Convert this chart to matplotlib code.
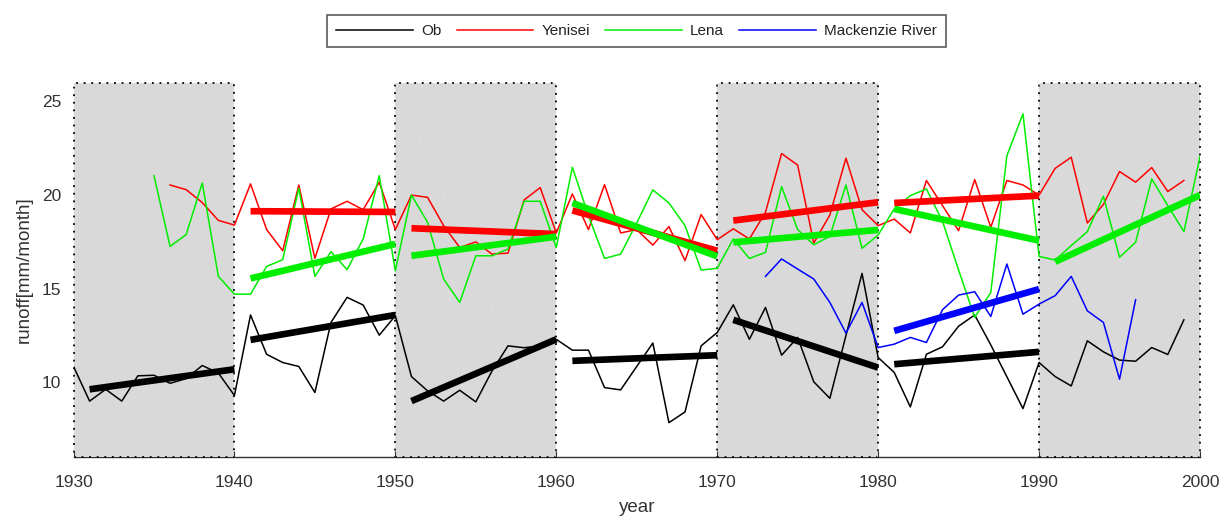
import numpy as np
import matplotlib
matplotlib.use("Agg")
import matplotlib.pyplot as plt
from matplotlib.patches import Rectangle

plt.rcParams['font.family'] = ['Liberation Sans', 'DejaVu Sans']

# ---------------- data ----------------
ob_years = list(range(1930, 2000))
ob_vals = [10.85, 9.0, 9.63, 9.0, 10.35, 10.38, 9.95, 10.2, 10.9, 10.5,
           9.3, 13.6, 11.5, 11.06, 10.85, 9.46, 13.2, 14.54, 14.13, 12.52,
           13.56, 10.31, 9.55, 9.0, 9.58, 8.96, 10.6, 11.95, 11.85, 11.95,
           12.3, 11.72, 11.72, 9.72, 9.6, 10.85, 12.1, 7.85, 8.42, 11.95,
           12.66, 14.14, 12.3, 14.0, 11.45, 12.4, 10.03, 9.15, 12.5, 15.82,
           11.33, 10.53, 8.69, 11.5, 11.9, 13.0, 13.6, 12.0, 10.3, 8.6,
           11.06, 10.31, 9.81, 12.22, 11.63, 11.19, 11.13, 11.86, 11.49, 13.34]

yen_years = list(range(1936, 2000))
yen_vals = [20.54, 20.29, 19.6, 18.65,
            18.4, 20.6, 18.16, 17.03, 20.54, 16.62, 19.26, 19.67, 19.22, 20.69,
            18.16, 20.0, 19.88, 18.37, 17.2, 17.5, 16.85, 16.9, 19.74, 20.4,
            17.98, 20.06, 18.16, 20.56, 17.98, 18.16, 17.33, 18.32, 16.5, 18.96,
            17.62, 18.2, 17.66, 19.08, 22.22, 21.6, 17.44, 18.94, 21.97, 19.22,
            18.37, 18.72, 17.98, 20.78, 19.44, 18.1, 20.83, 18.28, 20.78, 20.54,
            20.0, 21.43, 22.02, 18.51, 19.5, 21.26, 20.69, 21.47, 20.19, 20.78]

lena_years = list(range(1935, 2001))
lena_vals = [21.04, 17.26, 17.89, 20.65, 15.66,
             14.71, 14.71, 16.19, 16.55, 20.37, 15.66, 16.98, 16.02, 17.66, 21.04,
             15.96, 20.0, 18.55, 15.52, 14.27, 16.76, 16.76, 17.12, 19.67, 19.67,
             17.2, 21.49, 18.9, 16.62, 16.85, 18.51, 20.28, 19.58, 18.37, 16.0,
             16.09, 17.66, 16.62, 16.94, 20.45, 18.16, 17.35, 17.8, 20.54, 17.16,
             17.87, 19.26, 19.97, 20.33, 18.6, 16.0, 13.47, 14.8, 22.1, 24.34,
             16.73, 16.53, 17.3, 18.05, 19.94, 16.68, 17.48, 20.86, 19.44, 18.05,
             22.06]

mack_years = list(range(1973, 1997))
mack_vals = [15.66, 16.59, 16.05, 15.52, 14.27, 12.63, 14.27,
             11.86, 12.04, 12.4, 12.13, 13.88, 14.66, 14.84, 13.52, 16.32, 13.64,
             14.18, 14.63, 15.66, 13.82, 13.2, 10.17, 14.41]

# decadal trend segments: start year, start value, end value (segment spans 9 years)
ob_trend_start = [1931, 1941, 1951, 1961, 1971, 1981]
ob_trend_v0 = [9.63, 12.27, 9.0, 11.15, 13.34, 10.97]
ob_trend_v1 = [10.7, 13.6, 12.3, 11.45, 10.79, 11.63]

yen_trend_start = [1941, 1951, 1961, 1971, 1981]
yen_trend_v0 = [19.14, 18.23, 19.18, 18.64, 19.58]
yen_trend_v1 = [19.1, 17.92, 17.03, 19.62, 19.97]

lena_trend_start = [1941, 1951, 1961, 1971, 1981, 1991]
lena_trend_v0 = [15.55, 16.76, 19.58, 17.48, 19.26, 16.44]
lena_trend_v1 = [17.39, 17.78, 16.73, 18.14, 17.57, 20.0]

mack_trend_start = [1981]
mack_trend_v0 = [12.75]
mack_trend_v1 = [14.98]

shaded_decades = [1930, 1950, 1970, 1990]
xticks = [1930, 1940, 1950, 1960, 1970, 1980, 1990, 2000]
yticks = [10, 15, 20, 25]

# ---------------- figure ----------------
fig = plt.figure(figsize=(12.19, 5.18), dpi=100)
ax = fig.add_axes([0.0603, 0.1172, 0.9241, 0.7231])
ax.set_xlim(1930, 2000)
ax.set_ylim(6, 26)

for d in shaded_decades:
    ax.add_patch(Rectangle((d, 6), 10, 20, facecolor='#d9d9d9', edgecolor='black',
                           linestyle=(0, (1, 3.2)), linewidth=1.3, zorder=0.5,
                           clip_on=False))
    ax.plot([d, d + 10], [26, 6], color='#dfdfdf', lw=0.6, zorder=0.6)

ax.plot(ob_years, ob_vals, color='black', lw=1.1, label='Ob')
ax.plot(yen_years, yen_vals, color='#ff0000', lw=1.1, label='Yenisei')
ax.plot(lena_years, lena_vals, color='#00ee00', lw=1.1, label='Lena')
ax.plot(mack_years, mack_vals, color='#0000ff', lw=1.1, label='Mackenzie River')

def trends(starts, v0, v1, color):
    for s, a, b in zip(starts, v0, v1):
        ax.plot([s, s + 9], [a, b], color=color, lw=4.8, solid_capstyle='butt', zorder=3)

trends(ob_trend_start, ob_trend_v0, ob_trend_v1, 'black')
trends(yen_trend_start, yen_trend_v0, yen_trend_v1, '#ff0000')
trends(lena_trend_start, lena_trend_v0, lena_trend_v1, '#00ee00')
trends(mack_trend_start, mack_trend_v0, mack_trend_v1, '#0000ff')

for s in ['top', 'right', 'left']:
    ax.spines[s].set_visible(False)
ax.spines['bottom'].set_color('#333333')
ax.spines['bottom'].set_linewidth(1.0)
ax.spines['bottom'].set_zorder(0.4)

ax.set_xticks(xticks)
ax.set_yticks(yticks)
ax.tick_params(axis='x', direction='in', length=4, color='#333333',
               labelsize=12.5, labelcolor='#333333', pad=13)
ax.tick_params(axis='y', length=0, labelsize=12.5, labelcolor='#333333', pad=9)
ax.set_xlabel('year', fontsize=13.5, color='#333333', labelpad=6)
ax.set_ylabel('runoff[mm/month]', fontsize=13.5, color='#333333', labelpad=6)

leg = ax.legend(loc='upper center', bbox_to_anchor=(0.5, 1.181), ncol=4,
                frameon=True, fancybox=False, fontsize=11, handlelength=5.0,
                columnspacing=1.0, handletextpad=0.55, borderpad=0.6,
                borderaxespad=0)
leg.get_frame().set_edgecolor('#333333')
leg.get_frame().set_linewidth(1.2)
for t in leg.get_texts():
    t.set_color('#222222')

fig.savefig('out.png', dpi=100)
